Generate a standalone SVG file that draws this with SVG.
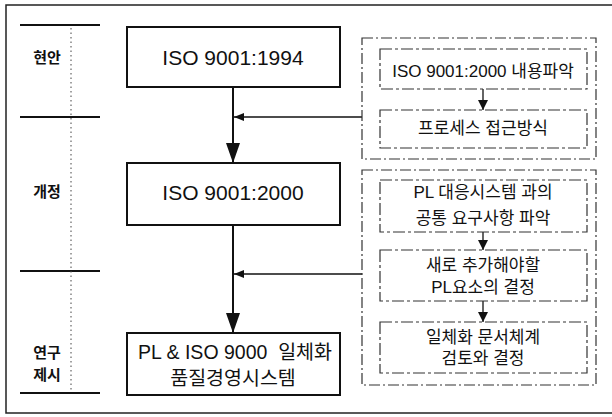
<svg xmlns="http://www.w3.org/2000/svg" width="612" height="417" viewBox="0 0 612 417">
<style>
.frame{fill:none;stroke:#222;stroke-width:1.5}
.box{fill:#fff;stroke:#111;stroke-width:2}
.dgrp{fill:none;stroke:#333;stroke-width:1.2;stroke-dasharray:11 3 2 3}
.dbox{fill:#fff;stroke:#333;stroke-width:1.2;stroke-dasharray:12 3 3 3}
.sep{stroke:#111;stroke-width:2}
.dot{stroke:#444;stroke-width:1;stroke-dasharray:1.5 3}
.line{stroke:#111;stroke-width:2;fill:none}
.thin{stroke:#111;stroke-width:1.3;fill:none}
.lbl{font-family:"Liberation Sans","Noto Sans CJK KR",sans-serif;font-size:15px;font-weight:bold;fill:#111;text-anchor:middle}
.main{font-family:"Liberation Sans","Noto Sans CJK KR",sans-serif;font-size:21px;fill:#111;text-anchor:middle}
.main2{font-family:"Liberation Sans","Noto Sans CJK KR",sans-serif;font-size:19.5px;fill:#111;text-anchor:middle;white-space:pre}
.sub{font-family:"Liberation Sans","Noto Sans CJK KR",sans-serif;font-size:17px;fill:#111;text-anchor:middle}
</style>
<defs>
<marker id="big" viewBox="0 0 20 14" refX="20" refY="7" markerWidth="20" markerHeight="14" markerUnits="userSpaceOnUse" orient="auto">
<path d="M0,0 L20,7 L0,14 Z" fill="#111"/>
</marker>
<marker id="open" viewBox="0 0 10 10" refX="10" refY="5" markerWidth="10" markerHeight="10" markerUnits="userSpaceOnUse" orient="auto">
<path d="M0,1 L10,5 L0,9 Z" fill="#111"/>
</marker>
<marker id="small" viewBox="0 0 10 12" refX="10" refY="6" markerWidth="10" markerHeight="12" markerUnits="userSpaceOnUse" orient="auto">
<path d="M0,1 L10,6 L0,11 Z" fill="#111"/>
</marker>
</defs>
<rect class="frame" x="6" y="5" width="612" height="408"/>
<g id="stages">
<line class="sep" x1="20" y1="25" x2="100" y2="25"/>
<line class="sep" x1="20" y1="117" x2="100" y2="117"/>
<line class="sep" x1="20" y1="271" x2="100" y2="271"/>
<line class="sep" x1="20" y1="393" x2="100" y2="393"/>
<line class="dot" x1="71" y1="28" x2="71" y2="390"/>
<text class="lbl" x="47" y="63">현안</text>
<text class="lbl" x="47" y="197">개정</text>
<text class="lbl" x="47" y="358">연구</text>
<text class="lbl" x="47" y="380">제시</text>
</g>
<g id="connectors">
<line class="line" x1="233" y1="87" x2="233" y2="163" marker-end="url(#big)"/>
<line class="line" x1="233" y1="225" x2="233" y2="333" marker-end="url(#big)"/>
<line class="thin" x1="362" y1="117" x2="234" y2="117" marker-end="url(#open)"/>
<line class="thin" x1="362" y1="274" x2="234" y2="274" marker-end="url(#open)"/>
<line class="thin" x1="483" y1="89" x2="483" y2="110" marker-end="url(#small)"/>
<line class="thin" x1="483" y1="232" x2="483" y2="250" marker-end="url(#small)"/>
<line class="thin" x1="483" y1="301" x2="483" y2="322" marker-end="url(#small)"/>
</g>
<g id="n-iso1994">
<rect class="box" x="127" y="27" width="213" height="60"/>
<text class="main" x="233" y="65">ISO 9001:1994</text>
</g>
<g id="n-iso2000">
<rect class="box" x="127" y="163" width="213" height="62"/>
<text class="main" x="233" y="200">ISO 9001:2000</text>
</g>
<g id="n-integrated">
<rect class="box" x="127" y="333" width="213" height="62"/>
<text class="main2" x="235" y="359" xml:space="preserve">PL &amp; ISO 9000  일체화</text>
<text class="main2" x="233" y="385">품질경영시스템</text>
</g>
<g id="g-revision">
<rect class="dgrp" x="362" y="38" width="234" height="121"/>
</g>
<g id="n-content">
<rect class="dbox" x="380" y="49" width="207" height="40"/>
<text class="sub" x="483" y="77">ISO 9001:2000 내용파악</text>
</g>
<g id="n-process">
<rect class="dbox" x="380" y="110" width="207" height="38"/>
<text class="sub" x="483" y="134">프로세스 접근방식</text>
</g>
<g id="g-research">
<rect class="dgrp" x="362" y="170" width="234" height="215"/>
</g>
<g id="n-common">
<rect class="dbox" x="380" y="180" width="207" height="52"/>
<text class="sub" x="483" y="198">PL 대응시스템 과의</text>
<text class="sub" x="483" y="224">공통 요구사항 파악</text>
</g>
<g id="n-new">
<rect class="dbox" x="380" y="250" width="207" height="51"/>
<text class="sub" x="483" y="271">새로 추가해야할</text>
<text class="sub" x="483" y="293">PL요소의 결정</text>
</g>
<g id="n-docs">
<rect class="dbox" x="380" y="322" width="207" height="51"/>
<text class="sub" x="483" y="343">일체화 문서체계</text>
<text class="sub" x="483" y="364">검토와 결정</text>
</g>
</svg>
